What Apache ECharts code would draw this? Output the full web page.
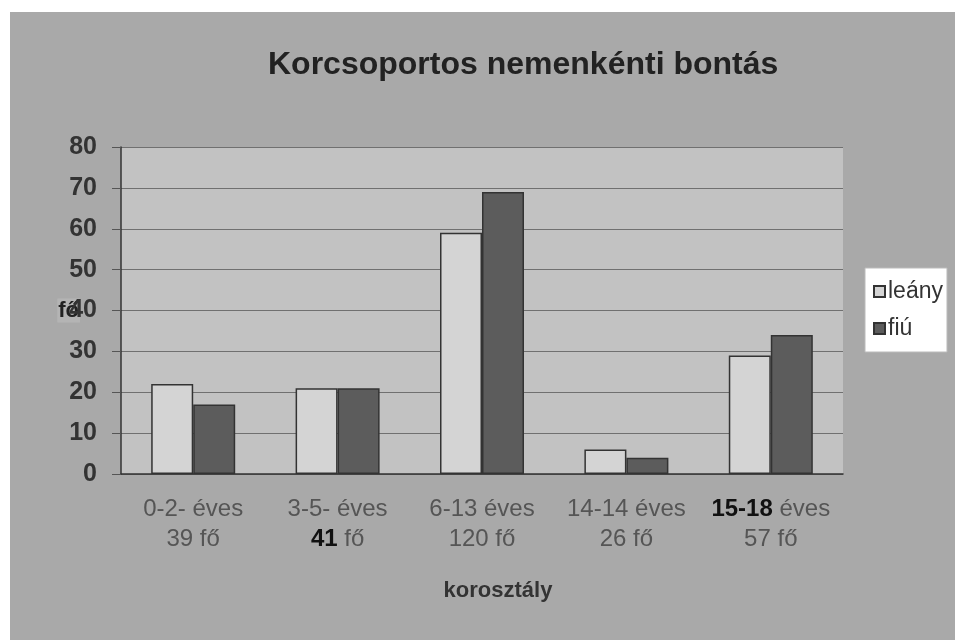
<!DOCTYPE html>
<html>
<head>
<meta charset="utf-8">
<script src="https://cdn.jsdelivr.net/npm/echarts@6/dist/echarts.min.js"></script>
<style>
  html, body { margin: 0; padding: 0; background: #fff; }
  #container { width: 955px; height: 640px; }
</style>
</head>
<body>
<div id="container"></div>
<script>
// korcsoportok (x tengely)
var categories = ['0-2- éves\n39 fő', '3-5- éves\n{b|41} fő', '6-13 éves\n120 fő', '14-14 éves\n26 fő', '{b|15-18} éves\n57 fő'];
var seriesNames = ['leány', 'fiú'];
var leanyValues = [22, 21, 59, 6, 29];
var fiuValues = [17, 21, 69, 4, 34];
var yTicks = [0, 10, 20, 30, 40, 50, 60, 70, 80];

function buildOption() {
    var option = {
        backgroundColor: '#fff',
        animation: false,
        graphic: [{
            type: 'rect',
            left: 10,
            top: 12,
            shape: { width: 945, height: 628 },
            style: { fill: '#a9a9a9' },
            z: -10
        }],
        title: {
            text: 'Korcsoportos nemenkénti bontás',
            left: 263,
            top: 44,
            textStyle: {
                fontFamily: 'Liberation Sans, Arial, sans-serif',
                fontSize: 32,
                fontWeight: 'bold',
                color: '#222'
            }
        },
        legend: {
            orient: 'vertical',
            left: 865,
            top: 268,
            width: 72,
            backgroundColor: '#fff',
            borderColor: '#bbb',
            borderWidth: 1,
            padding: [12, 4, 12, 8],
            icon: 'rect',
            itemWidth: 11,
            itemHeight: 11,
            itemGap: 14,
            data: seriesNames,
            textStyle: {
                fontFamily: 'Liberation Sans, Arial, sans-serif',
                fontSize: 23,
                color: '#333',
                padding: [0, 0, 0, -2]
            }
        },
        grid: {
            left: 121,
            top: 147,
            right: 112,
            bottom: 166,
            show: true,
            backgroundColor: '#c2c2c2',
            borderWidth: 0
        },
        xAxis: {
            type: 'category',
            data: categories,
            name: 'korosztály',
            nameLocation: 'middle',
            nameGap: 106,
            nameTextStyle: {
                fontFamily: 'Liberation Sans, Arial, sans-serif',
                fontSize: 22,
                fontWeight: 'bold',
                color: '#333',
                padding: [0, 0, 0, 32]
            },
            axisLine: { lineStyle: { color: '#333', width: 1.5 } },
            axisTick: { show: false },
            axisLabel: {
                interval: 0,
                margin: 20,
                fontFamily: 'Liberation Sans, Arial, sans-serif',
                fontSize: 24,
                lineHeight: 30,
                color: '#555',
                rich: {
                    b: {
                        fontFamily: 'Liberation Sans, Arial, sans-serif',
                        fontSize: 24,
                        fontWeight: 'bold',
                        color: '#111',
                        lineHeight: 30
                    }
                }
            }
        },
        yAxis: {
            type: 'value',
            min: yTicks[0],
            max: yTicks[yTicks.length - 1],
            interval: 10,
            name: 'fő',
            nameLocation: 'middle',
            nameRotate: 0,
            nameGap: 41,
            nameMoveOverlap: false,
            nameTextStyle: {
                fontFamily: 'Liberation Sans, Arial, sans-serif',
                fontSize: 22,
                fontWeight: 'bold',
                color: '#222',
                backgroundColor: '#b4b4b4',
                padding: [1, 1, 1, 1]
            },
            axisLine: { show: true, lineStyle: { color: '#333', width: 1.5 } },
            axisTick: { show: true, length: 9, lineStyle: { color: '#555' } },
            splitLine: { lineStyle: { color: '#707070', width: 1 } },
            axisLabel: {
                margin: 24,
                fontFamily: 'Liberation Sans, Arial, sans-serif',
                fontSize: 25,
                fontWeight: 'bold',
                color: '#333'
            }
        },
        series: [{
            name: seriesNames[0],
            type: 'bar',
            data: leanyValues,
            barWidth: 42,
            barGap: '0%',
            itemStyle: { color: '#d4d4d4', borderColor: '#333', borderWidth: 1.5 }
        }, {
            name: seriesNames[1],
            type: 'bar',
            data: fiuValues,
            barWidth: 42,
            barGap: '0%',
            itemStyle: { color: '#5c5c5c', borderColor: '#333', borderWidth: 1.5 }
        }]
    };
    return option;
}

var myChart = echarts.init(document.getElementById('container'));
myChart.setOption(buildOption());
</script>
</body>
</html>
